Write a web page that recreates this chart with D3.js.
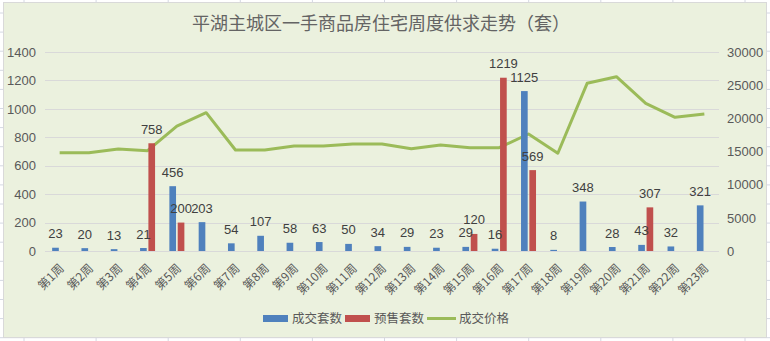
<!DOCTYPE html>
<html><head><meta charset="utf-8">
<script src="https://cdn.jsdelivr.net/npm/d3@7"></script>
<style>html,body{margin:0;padding:0;background:#fff;}svg{display:block;}</style>
</head><body>
<svg id="c" width="770" height="341"></svg>
<script>
const weeks = ["第1周","第2周","第3周","第4周","第5周","第6周","第7周","第8周","第9周","第10周","第11周","第12周","第13周","第14周","第15周","第16周","第17周","第18周","第19周","第20周","第21周","第22周","第23周"];
const dealUnits = [23,20,13,21,456,203,54,107,58,63,50,34,29,23,29,16,1125,8,348,28,43,32,321];
const presaleUnits = [0,0,0,758,200,0,0,0,0,0,0,0,0,0,120,1219,569,0,0,0,307,0,0];
const dealPrice = [14820,14820,15380,15120,18840,20850,15230,15230,15830,15830,16130,16130,15430,15980,15580,15580,17640,14730,25280,26280,22270,20160,20650];
const leftTicks = [0,200,400,600,800,1000,1200,1400];
const rightTicks = [0,5000,10000,15000,20000,25000,30000];
const seriesNames = ["成交套数","预售套数","成交价格"];
const title = "平湖主城区一手商品房住宅周度供求走势（套）";

const colors = {deal:"#4F81BD", presale:"#C0504D", price:"#9BBB59"};
const txt = "#595959";
const numFont = "'Liberation Sans Narrow','Liberation Sans',sans-serif";
const cjk = "'Noto Sans CJK SC',sans-serif";

const svg = d3.select("#c");
// spreadsheet backdrop
const bg = svg.append("g");
for (let x = 24; x < 770; x += 72.1) bg.append("line").attr("x1",x).attr("x2",x).attr("y1",0).attr("y2",341).attr("stroke","#D4D8E2");
for (let y = 13; y < 341; y += 19.1) bg.append("line").attr("x1",0).attr("x2",770).attr("y1",y).attr("y2",y).attr("stroke","#D4D8E2");
svg.append("rect").attr("x",3.5).attr("y",2.5).attr("width",763).attr("height",335).attr("fill","#EBF1DE").attr("stroke","#D9D9D9");

const x = d3.scaleBand().domain(weeks).range([45,719]).padding(0);
const sub = d3.scaleBand().domain(["deal","presale"]).range([-7.5,7.5]).paddingInner(0.2);
const yL = d3.scaleLinear().domain([0,1400]).range([251,52]);
const yR = d3.scaleLinear().domain([0,30000]).range([251,52]);
const cx = w => x(w) + x.bandwidth()/2;

// title
svg.append("text").attr("x",381).attr("y",30).attr("text-anchor","middle").attr("font-family",cjk).attr("font-size",18).attr("fill","#646464").text(title);

// grid
svg.append("g").selectAll("line").data(leftTicks).join("line")
  .attr("x1",45).attr("x2",719).attr("y1",d=>Math.round(yL(d))+0.5).attr("y2",d=>Math.round(yL(d))+0.5)
  .attr("stroke","#D9D9D9").attr("stroke-width",1);

// left axis
const axL = svg.append("g").attr("transform","translate(45,0)").call(d3.axisLeft(yL).tickValues(leftTicks).tickFormat(d3.format("d")).tickSize(0).tickPadding(9));
axL.select(".domain").remove();
axL.selectAll("text").attr("font-family",numFont).attr("font-size",13).attr("fill",txt);
// right axis
const axR = svg.append("g").attr("transform","translate(719,0)").call(d3.axisRight(yR).tickValues(rightTicks).tickFormat(d3.format("d")).tickSize(0).tickPadding(8));
axR.select(".domain").remove();
axR.selectAll("text").attr("font-family",numFont).attr("font-size",13).attr("fill",txt);

// x axis labels
const axB = svg.append("g").attr("transform","translate(0,251)").call(d3.axisBottom(x).tickSize(0).tickPadding(0));
axB.select(".domain").remove();
axB.selectAll("text").attr("font-family",cjk).attr("font-size",12).attr("fill",txt)
  .attr("text-anchor","end").attr("dy",0).attr("y",0)
  .attr("transform","translate(5,18) rotate(-45)");

// price line
const line = d3.line().x((d,i)=>cx(weeks[i])).y(d=>yR(d));
svg.append("path").datum(dealPrice).attr("d",line).attr("fill","none").attr("stroke",colors.price).attr("stroke-width",3).attr("stroke-linejoin","round");

// bars
const gb = svg.append("g");
gb.selectAll(".deal").data(dealUnits).join("rect")
  .attr("x",(d,i)=>cx(weeks[i])+sub("deal")).attr("width",sub.bandwidth())
  .attr("y",d=>yL(d)).attr("height",d=>yL(0)-yL(d)).attr("fill",colors.deal);
gb.selectAll(".pre").data(presaleUnits).join("rect")
  .attr("x",(d,i)=>cx(weeks[i])+sub("presale")).attr("width",sub.bandwidth())
  .attr("y",d=>yL(d)).attr("height",d=>yL(0)-yL(d)).attr("fill",colors.presale);

// labels
const gl = svg.append("g").attr("font-family",numFont).attr("font-size",13).attr("fill","#404040").attr("text-anchor","middle");
dealUnits.forEach((d,i)=>{
  gl.append("text").attr("x",cx(weeks[i])+sub("deal")+sub.bandwidth()/2).attr("y",yL(d)-14).attr("dy","0.35em").text(d);
});
presaleUnits.forEach((d,i)=>{
  if (d>0) gl.append("text").attr("x",cx(weeks[i])+sub("presale")+sub.bandwidth()/2).attr("y",yL(d)-14).attr("dy","0.35em").text(d);
});

// legend
const lg = svg.append("g").attr("font-family",cjk).attr("font-size",12.5).attr("fill",txt);
const items = [
  {name:seriesNames[0], type:"rect", color:colors.deal, x:263},
  {name:seriesNames[1], type:"rect", color:colors.presale, x:345},
  {name:seriesNames[2], type:"line", color:colors.price, x:427}
];
items.forEach(it=>{
  if (it.type==="rect") lg.append("rect").attr("x",it.x).attr("y",315).attr("width",25).attr("height",7).attr("fill",it.color);
  else lg.append("line").attr("x1",it.x).attr("x2",it.x+29).attr("y1",318.5).attr("y2",318.5).attr("stroke",it.color).attr("stroke-width",3);
  lg.append("text").attr("x",it.x+(it.type==="rect"?29:32)).attr("y",318.5).attr("dy","0.35em").text(it.name);
});
</script>
</body></html>
